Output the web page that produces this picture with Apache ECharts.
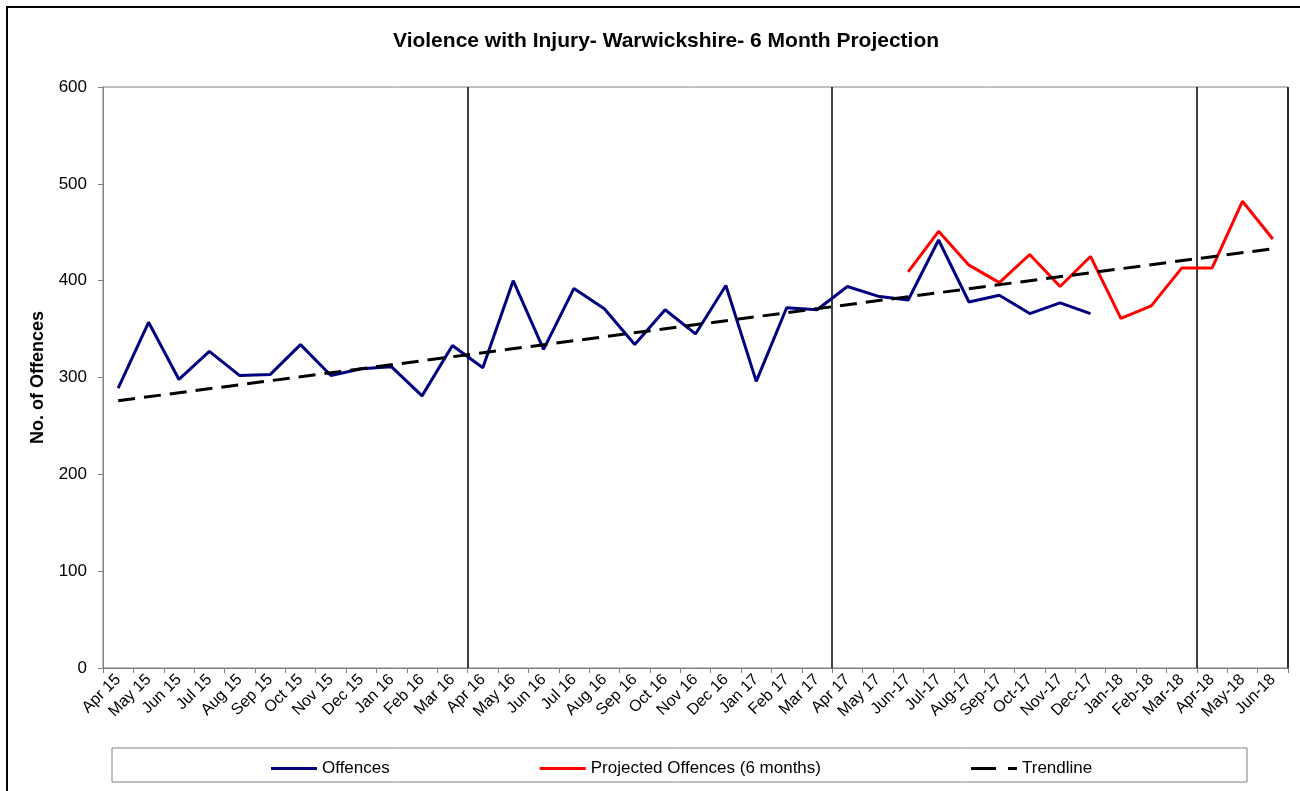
<!DOCTYPE html>
<html>
<head>
<meta charset="utf-8">
<title>Violence with Injury - Warwickshire</title>
<script src="https://cdn.jsdelivr.net/npm/echarts@6/dist/echarts.min.js"></script>
<style>
  html, body { margin: 0; padding: 0; background: #fff; }
  #chart { width: 1300px; height: 791px; }
</style>
</head>
<body>
<div id="chart"></div>
<script>
const months = [
  'Apr 15', 'May 15', 'Jun 15', 'Jul 15', 'Aug 15', 'Sep 15', 'Oct 15', 'Nov 15', 'Dec 15', 'Jan 16', 'Feb 16', 'Mar 16',
  'Apr 16', 'May 16', 'Jun 16', 'Jul 16', 'Aug 16', 'Sep 16', 'Oct 16', 'Nov 16', 'Dec 16', 'Jan 17', 'Feb 17', 'Mar 17',
  'Apr 17', 'May 17', 'Jun-17', 'Jul-17', 'Aug-17', 'Sep-17', 'Oct-17', 'Nov-17', 'Dec-17', 'Jan-18', 'Feb-18', 'Mar-18',
  'Apr-18', 'May-18', 'Jun-18'
];

// recorded offences (ends Dec-17)
const offences = [
  289, 357, 298, 327, 302, 303, 334, 302, 309, 311, 281, 333,
  310, 400, 329, 392, 371, 334, 370, 345, 395, 296, 372, 370,
  394, 384, 380, 442, 378, 385, 366, 377, 366, null, null, null,
  null, null, null
];

// projection starts Jun-17
const projected = [
  null, null, null, null, null, null, null, null, null, null, null, null,
  null, null, null, null, null, null, null, null, null, null, null, null,
  null, null, 409, 451, 416, 398, 427, 394, 425, 361, 374, 413,
  413, 482, 443
];

// straight trendline: only the two end values, the rest joined by the library
const trendline = [276].concat(new Array(37).fill(null), [433]);

// year boundaries (category index where the vertical line sits)
const yearBreaks = [12, 24, 36];

const chart = echarts.init(document.getElementById('chart'));

const option = {
  backgroundColor: '#fff',
  animation: false,
  textStyle: { fontFamily: 'Liberation Sans, Arial, sans-serif' },
  title: {
    text: 'Violence with Injury- Warwickshire- 6 Month Projection',
    left: 388,
    top: 26,
    textStyle: { fontSize: 21, fontWeight: 'bold', color: '#000' }
  },
  graphic: [
    {
      // outer chart frame
      type: 'rect',
      shape: { x: 7, y: 7, width: 1320, height: 820 },
      style: { fill: 'none', stroke: '#000', lineWidth: 2 },
      silent: true
    },
    {
      // legend frame
      type: 'rect',
      shape: { x: 112, y: 748, width: 1135, height: 34 },
      style: { fill: 'none', stroke: '#808080', lineWidth: 1 },
      silent: true
    }
  ],
  legend: {
    left: 266,
    top: 755,
    itemGap: 150,
    itemWidth: 46,
    itemHeight: 3,
    textStyle: { fontSize: 17, color: '#000' },
    data: [
      { name: 'Offences', icon: 'path://M0,0h46v3h-46z' },
      { name: 'Projected Offences (6 months)', icon: 'path://M0,0h46v3h-46z' },
      { name: 'Trendline', icon: 'path://M0,0h25v3h-25zM37,0h9v3h-9z' }
    ]
  },
  grid: {
    left: 103,
    top: 87,
    right: 12,
    bottom: 123,
    show: true,
    borderColor: '#808080',
    borderWidth: 1
  },
  xAxis: {
    type: 'category',
    data: months,
    boundaryGap: true,
    axisLine: { lineStyle: { color: '#808080', width: 1 } },
    axisTick: { show: true, length: 5, lineStyle: { color: '#808080' } },
    axisLabel: { rotate: 45, interval: 0, fontSize: 16, color: '#000', margin: 9 },
    splitLine: {
      show: true,
      interval: function (index) {
        return yearBreaks.indexOf(index) !== -1;
      },
      lineStyle: { color: '#000', width: 1.5 }
    }
  },
  yAxis: {
    type: 'value',
    min: 0,
    max: 600,
    interval: 100,
    name: 'No. of Offences',
    nameLocation: 'middle',
    nameGap: 56,
    nameTextStyle: { fontSize: 18, fontWeight: 'bold', color: '#000' },
    axisLine: { show: true, lineStyle: { color: '#808080', width: 1 } },
    axisTick: { show: true, length: 5, lineStyle: { color: '#808080' } },
    axisLabel: { fontSize: 17, color: '#000', margin: 16 },
    splitLine: { show: false }
  },
  series: [
    {
      name: 'Offences',
      type: 'line',
      data: offences,
      showSymbol: false,
      symbol: 'none',
      lineStyle: { color: '#000080', width: 3 },
      itemStyle: { color: '#000080' },
      z: 3
    },
    {
      name: 'Projected Offences (6 months)',
      type: 'line',
      data: projected,
      showSymbol: false,
      symbol: 'none',
      lineStyle: { color: '#ff0000', width: 3 },
      itemStyle: { color: '#ff0000' },
      z: 2
    },
    {
      name: 'Trendline',
      type: 'line',
      data: trendline,
      connectNulls: true,
      showSymbol: false,
      symbol: 'none',
      lineStyle: { color: '#000', width: 3, type: [17, 9] },
      itemStyle: { color: '#000' },
      z: 4
    }
  ]
};

chart.setOption(option);
</script>
</body>
</html>
